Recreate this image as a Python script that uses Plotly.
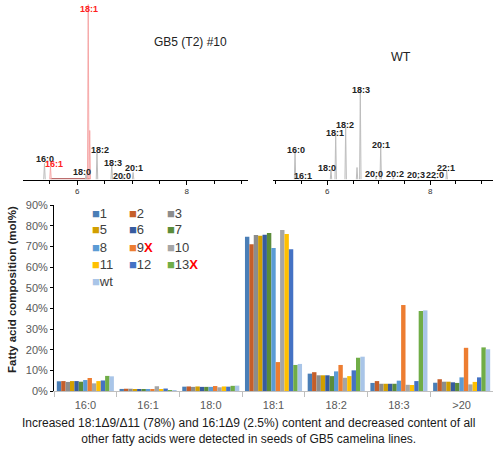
import plotly.graph_objects as go

# ---------------- data ----------------
categories = ["16:0", "16:1", "18:0", "18:1", "18:2", "18:3", ">20"]
series_names = ["1", "2", "3", "5", "6", "7", "8", "9", "10", "11", "12", "13", "wt"]
s1 = [4.7, 1.0, 2.1, 74.6, 8.4, 3.9, 4.0]
s2 = [4.8, 1.1, 2.2, 71.0, 9.1, 4.8, 5.7]
s3 = [4.4, 1.1, 2.0, 75.5, 7.6, 3.5, 4.5]
s5 = [4.8, 0.8, 2.2, 75.1, 7.6, 3.5, 4.5]
s6 = [4.8, 0.8, 2.0, 75.6, 7.6, 3.5, 4.2]
s7 = [4.5, 0.8, 2.0, 76.4, 7.2, 3.5, 3.9]
s8 = [5.3, 0.8, 2.0, 69.2, 9.5, 5.0, 6.6]
s9 = [6.3, 0.8, 2.4, 14.0, 12.6, 41.6, 20.9]
s10 = [3.7, 2.3, 1.8, 77.9, 6.4, 3.0, 3.2]
s11 = [4.8, 0.6, 2.2, 76.0, 7.2, 2.9, 4.4]
s12 = [5.1, 1.2, 2.1, 68.6, 10.0, 4.8, 6.6]
s13 = [7.3, 0.1, 2.5, 12.6, 16.1, 38.7, 21.1]
swt = [7.1, 0.1, 2.6, 13.1, 16.6, 39.0, 20.2]
series_values = [s1, s2, s3, s5, s6, s7, s8, s9, s10, s11, s12, s13, swt]
y_ticks = [0, 10, 20, 30, 40, 50, 60, 70, 80, 90]
y_tick_labels = ["0%", "10%", "20%", "30%", "40%", "50%", "60%", "70%", "80%", "90%"]

# chromatogram peaks: GB5 (T2) #10
gb5_labels = ["16:0", "16:1", "18:0", "18:1", "", "18:2", "18:3", "20:0", "20:1"]
gb5_rt = [5.40, 5.51, 6.16, 6.20, 6.227, 6.36, 6.63, 6.84, 7.02]
gb5_height = [16, 13, 5, 175, 49, 27, 16, 4, 7]
gb5_red = [False, True, False, True, True, False, False, False, False]

# chromatogram peaks: WT
wt_labels = ["16:0", "16:1", "18:0", "18:1", "18:2", "", "18:3", "20:0", "20:1", "20:2", "20:3", "22:0", "22:1"]
wt_rt = [5.372, 5.455, 6.072, 6.163, 6.357, 6.578, 6.642, 6.947, 7.039, 7.284, 7.770, 8.095, 8.323]
wt_height = [28.7, 2, 10, 47, 52, 12, 91, 3, 33.7, 2, 2, 2, 8.7]

# ---------------- styles ----------------
colors = ["#4A7EB6", "#C55E2A", "#8C8C8C", "#D29F00", "#375C9F", "#5B8C3A",
          "#5B9BD5", "#ED7D31", "#A5A5A5", "#FFC000", "#4472C4", "#70AD47", "#A9C5E8"]
red_x = {"9", "13"}

# label pixel offsets (dx, dy)
gb5_off = [(1, 5), (4, 3), (-4, 2.5), (0.5, -4.2), (0, 0), (3, 2.8), (1, 0.5), (-1, 0), (1, 5)]
wt_off = [(1, 1), (4, 2), (-4, 2), (-0.5, -0.5), (-0.7, 2.2), (0, 0), (0.5, -1.8),
          (-2, 2.8), (0, 1.3), (1.2, 3.3), (-2.5, 2.2), (0.2, 3), (-0.5, 2.8)]

FONT = "Liberation Sans, Arial, sans-serif"
W, H = 493, 450

fig = go.Figure()

# bars
for name, vals, col in zip(series_names, series_values, colors):
    fig.add_trace(go.Bar(
        x=categories, y=vals, name=name, marker=dict(color=col, line=dict(width=0)),
        showlegend=False, xaxis="x", yaxis="y", hoverinfo="skip"))


def peak_xy(rts, hs, half=0.014):
    xs, ys = [], []
    for r, h in zip(rts, hs):
        xs += [r - half, r, r + half, None]
        ys += [0, h, 0, None]
    return xs, ys


# GB5 chromatogram
g_rt = [r for r, red in zip(gb5_rt, gb5_red) if not red]
g_h = [h for h, red in zip(gb5_height, gb5_red) if not red]
r_rt = [r for r, red in zip(gb5_rt, gb5_red) if red]
r_h = [h for h, red in zip(gb5_height, gb5_red) if red]
fig.add_trace(go.Scatter(x=[min(r_rt), max(r_rt)], y=[0.7, 0.7], mode="lines",
                         line=dict(color="#A03030", width=1),
                         showlegend=False, xaxis="x2", yaxis="y2", hoverinfo="skip"))
xs, ys = peak_xy(g_rt, g_h)
fig.add_trace(go.Scatter(x=xs, y=ys, mode="lines", line=dict(color="#BDBDBD", width=1),
                         showlegend=False, xaxis="x2", yaxis="y2", hoverinfo="skip"))
xs, ys = peak_xy(r_rt, r_h)
fig.add_trace(go.Scatter(x=xs, y=ys, mode="lines", line=dict(color="#F5A0A0", width=0.9),
                         showlegend=False, xaxis="x2", yaxis="y2", hoverinfo="skip"))

# WT chromatogram
xs, ys = peak_xy(wt_rt, wt_height)
fig.add_trace(go.Scatter(x=xs, y=ys, mode="lines", line=dict(color="#BDBDBD", width=1),
                         showlegend=False, xaxis="x3", yaxis="y3", hoverinfo="skip"))

annotations = []
for lab, r, h, red, (dx, dy) in zip(gb5_labels, gb5_rt, gb5_height, gb5_red, gb5_off):
    if not lab:
        continue
    annotations.append(dict(x=r, y=h, xref="x2", yref="y2", text="<b>%s</b>" % lab,
                            showarrow=False, xshift=dx, yshift=dy, yanchor="middle",
                            font=dict(family=FONT, size=9, color="#FF2020" if red else "#222222")))
for lab, r, h, (dx, dy) in zip(wt_labels, wt_rt, wt_height, wt_off):
    if not lab:
        continue
    annotations.append(dict(x=r, y=h, xref="x3", yref="y3", text="<b>%s</b>" % lab,
                            showarrow=False, xshift=dx, yshift=dy, yanchor="middle",
                            font=dict(family=FONT, size=9, color="#222222")))

annotations.append(dict(x=152 / W, y=1 - 33 / H, xref="paper", yref="paper", text="GB5 (T2) #10",
                        showarrow=False, font=dict(family=FONT, size=12, color="#222222")))
annotations.append(dict(x=413 / W, y=1 - 48 / H, xref="paper", yref="paper", text="WT",
                        showarrow=False, font=dict(family=FONT, size=12.5, color="#222222")))
annotations.append(dict(x=248 / W, y=1 - 431 / H, xref="paper", yref="paper",
                        text="Increased 18:1Δ9/Δ11 (78%) and 16:1Δ9 (2.5%) content and decreased content of all<br>"
                             "other fatty acids were detected in seeds of GB5 camelina lines.",
                        showarrow=False, yanchor="middle",
                        font=dict(family=FONT, size=12, color="#1A1A1A")))
# y-axis title
annotations.append(dict(x=12 / W, y=1 - 290 / H, xref="paper", yref="paper", textangle=-90,
                        text="<b>Fatty acid composition (mol%)</b>", showarrow=False,
                        xanchor="center", yanchor="middle",
                        font=dict(family=FONT, size=11.5, color="#222222")))

# legend drawn as text entries in a 3-column grid (series order row-wise)
leg_col_x = [90, 127, 165]
leg_row_y = [213, 230, 247, 264, 281]
for i, (name, col) in enumerate(zip(series_names, colors)):
    r, c = divmod(i, 3)
    label = name
    if name in red_x:
        label = name + "<span style='color:#FF0000'><b>X</b></span>"
    annotations.append(dict(x=leg_col_x[c] / W, y=1 - leg_row_y[r] / H, xref="paper", yref="paper",
                            xanchor="left", yanchor="middle", showarrow=False,
                            text="<span style='color:%s'>■</span>%s" % (col, label),
                            font=dict(family=FONT, size=13, color="#404040")))

top_dom = [1 - 179.5 / H, 1.0]
chrom_axis = dict(showgrid=False, zeroline=False, showline=True, linecolor="#000000", linewidth=1,
                  tickmode="array", tickvals=[6, 8], ticktext=["6", "8"], ticks="outside",
                  ticklen=4, tickcolor="#000000", automargin=False,
                  tickfont=dict(family=FONT, size=8, color="#333333"),
                  minor=dict(dtick=0.5, tick0=0, ticks="outside", ticklen=3, tickcolor="#000000"))

fig.update_layout(
    width=W, height=H, margin=dict(l=0, r=0, t=0, b=0, pad=0, autoexpand=False),
    paper_bgcolor="white", plot_bgcolor="white",
    barmode="group", bargap=0.09, bargroupgap=0,
    font=dict(family=FONT), showlegend=False,
    annotations=annotations,
    xaxis=dict(domain=[54 / W, 1.0], anchor="y", showgrid=False, zeroline=False, automargin=False,
               showline=True, linecolor="#BFBFBF", linewidth=1, ticks="outside",
               tickson="boundaries", ticklen=5, tickcolor="#BFBFBF", ticklabelstandoff=4,
               tickfont=dict(family=FONT, size=11, color="#595959")),
    yaxis=dict(domain=[1 - 391 / H, 1 - 205 / H], anchor="x", range=[0, 90], automargin=False,
               tickmode="array", tickvals=y_ticks, ticktext=y_tick_labels,
               showgrid=False, zeroline=False,
               showline=True, linecolor="#000000", linewidth=1, ticks="outside",
               ticklen=3, tickcolor="#000000",
               tickfont=dict(family=FONT, size=11, color="#595959")),
    xaxis2=dict(domain=[23.3 / W, 248.3 / W], anchor="y2", range=[5.013, 9.126], **chrom_axis),
    yaxis2=dict(domain=top_dom, anchor="x2", range=[0, 179.5], visible=False),
    xaxis3=dict(domain=[273.3 / W, 1.0], anchor="y3", range=[4.949, 9.224], **chrom_axis),
    yaxis3=dict(domain=top_dom, anchor="x3", range=[0, 179.5], visible=False),
)

fig.write_html("out.html", config={"displayModeBar": False},
               post_script="document.body.style.margin='0';document.body.style.overflow='hidden';")
